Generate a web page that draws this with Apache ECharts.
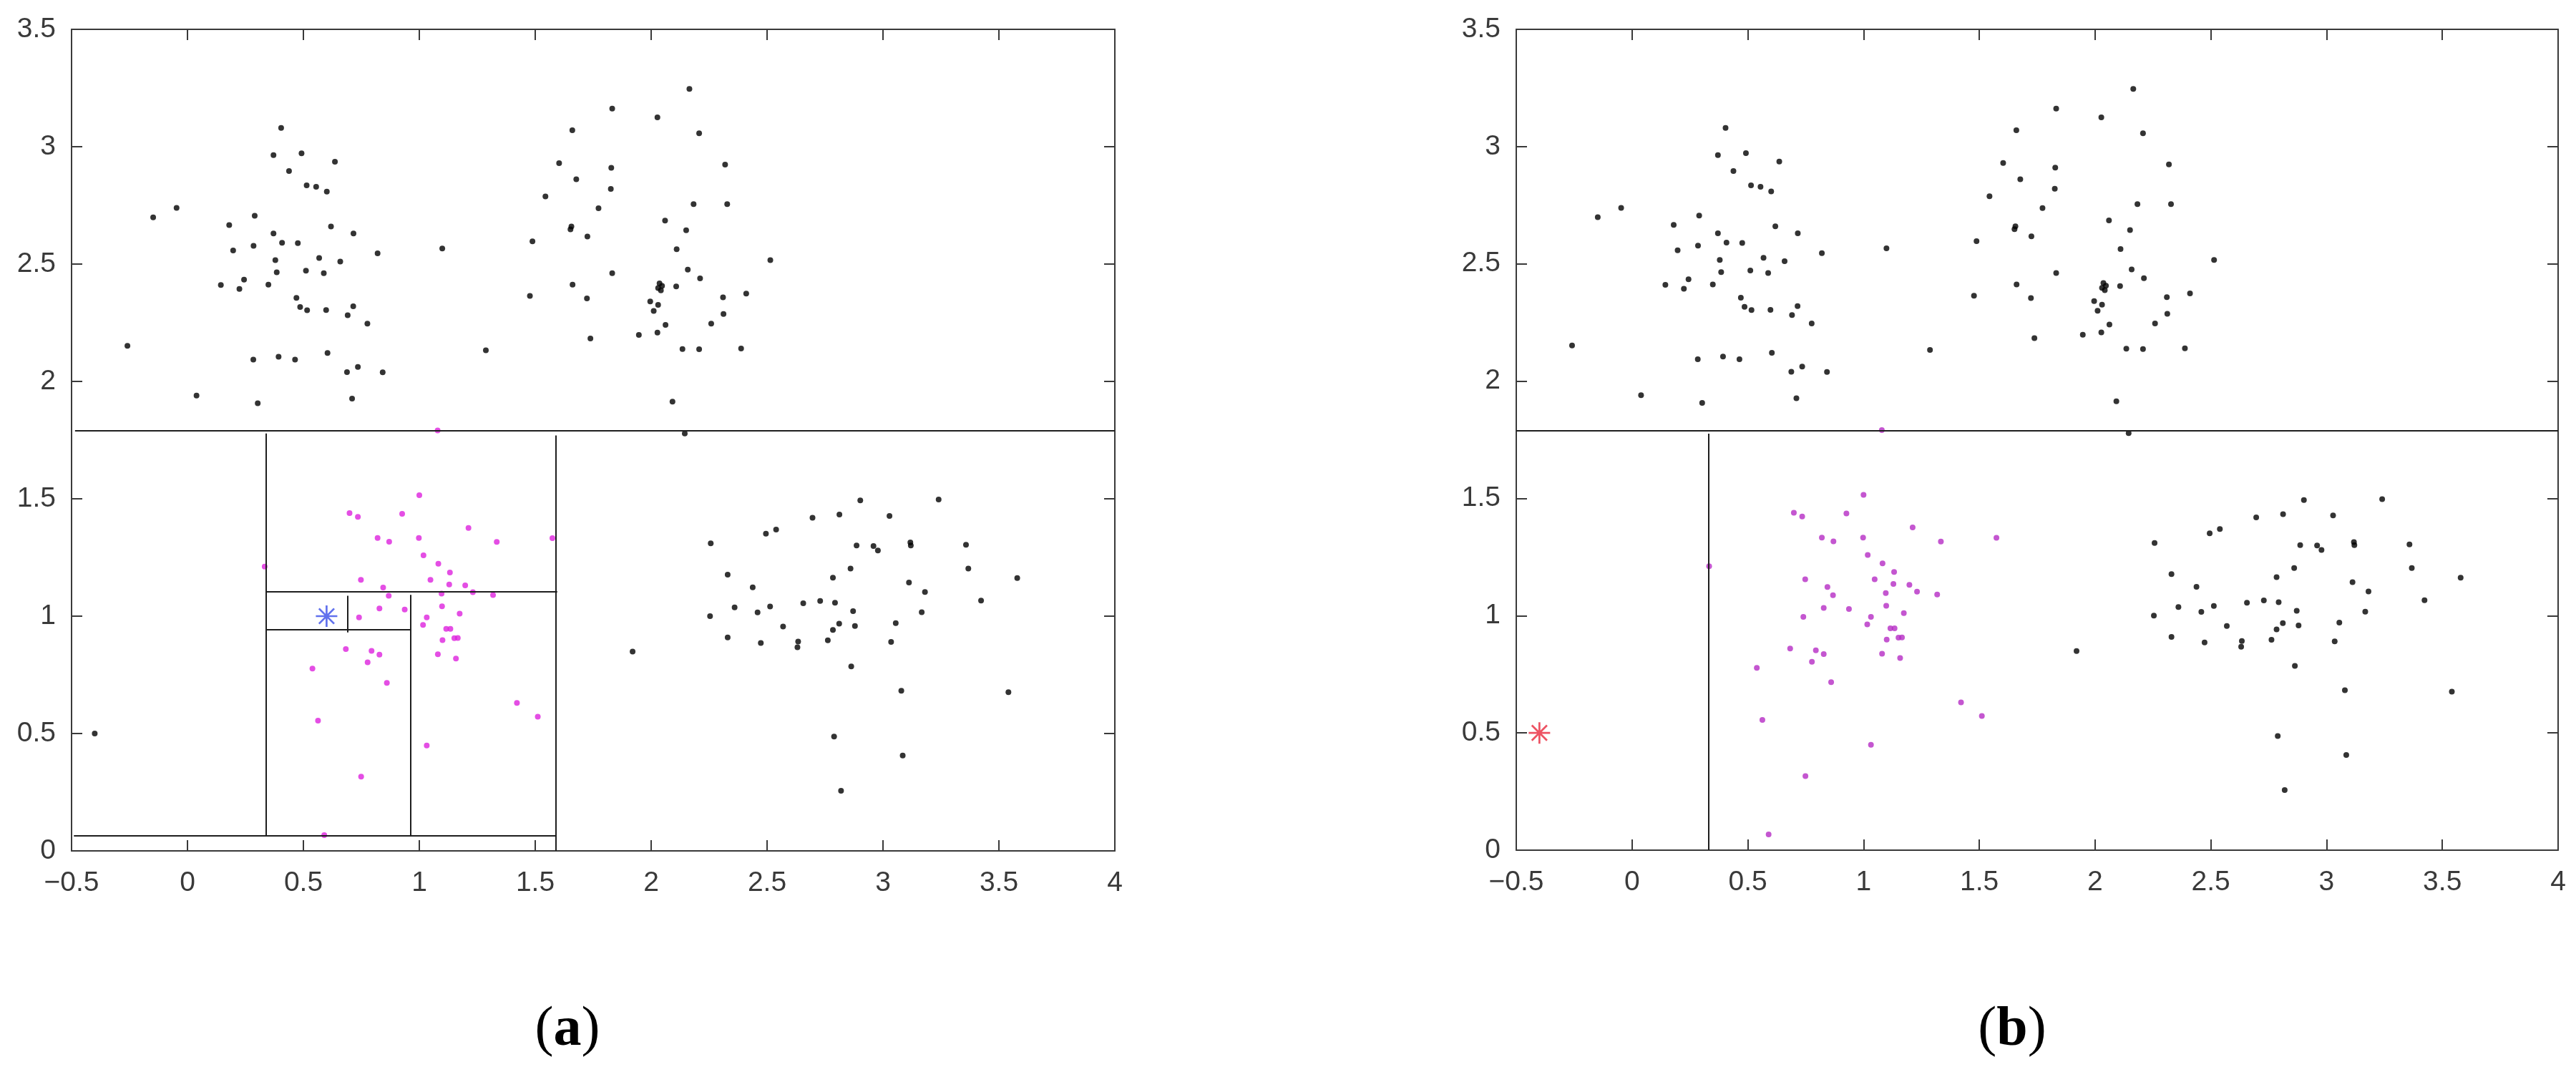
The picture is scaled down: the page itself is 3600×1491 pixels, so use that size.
<!DOCTYPE html>
<html>
<head>
<meta charset="utf-8">
<script src="https://cdn.jsdelivr.net/npm/echarts@6/dist/echarts.min.js"></script>
<style>
  html, body { margin: 0; padding: 0; background: #fff; }
  #chart { width: 3600px; height: 1491px; }
</style>
</head>
<body>
<div id="chart"></div>
<script>
// axis ticks
const xTicks = [-0.5, 0, 0.5, 1, 1.5, 2, 2.5, 3, 3.5, 4];
const yTicks = [0, 0.5, 1, 1.5, 2, 2.5, 3, 3.5];

// black points, upper-left cluster
const clusterTL = [
  [0.404, 3.08], [0.371, 2.964], [0.492, 2.972], [0.636, 2.936], [0.438, 2.896], [0.514, 2.835],
  [0.555, 2.829], [0.601, 2.809], [-0.148, 2.699], [-0.047, 2.739], [0.29, 2.706], [0.18, 2.666],
  [0.619, 2.66], [0.371, 2.63], [0.716, 2.63], [0.197, 2.558], [0.285, 2.578], [0.408, 2.591],
  [0.476, 2.589], [0.82, 2.546], [1.099, 2.566], [0.379, 2.517], [0.568, 2.526], [0.659, 2.511],
  [0.511, 2.472], [0.385, 2.465], [0.588, 2.461], [0.244, 2.434], [0.144, 2.411], [0.224, 2.394],
  [0.349, 2.412], [0.47, 2.356], [0.486, 2.317], [0.516, 2.303], [0.598, 2.304], [0.715, 2.32],
  [0.691, 2.282], [0.776, 2.246], [-0.259, 2.152], [1.287, 2.133], [0.604, 2.121], [0.284, 2.093],
  [0.393, 2.105], [0.464, 2.093], [0.735, 2.062], [0.688, 2.04], [0.842, 2.039], [0.039, 1.94],
  [0.303, 1.907], [0.71, 1.927]
];
// black points, upper-middle cluster
const clusterTM = [
  [2.165, 3.246], [1.832, 3.162], [2.027, 3.125], [1.66, 3.07], [2.207, 3.057], [1.603, 2.93],
  [2.319, 2.924], [1.828, 2.91], [1.677, 2.861], [1.826, 2.82], [1.544, 2.788], [1.773, 2.738],
  [2.183, 2.755], [2.328, 2.755], [2.06, 2.685], [1.656, 2.66], [1.652, 2.648], [1.725, 2.617],
  [2.151, 2.644], [1.488, 2.597], [2.11, 2.563], [2.514, 2.517], [1.832, 2.461], [2.158, 2.476],
  [2.211, 2.439], [1.661, 2.412], [1.477, 2.364], [1.723, 2.354], [2.036, 2.418], [2.047, 2.407],
  [2.03, 2.398], [2.042, 2.388], [2.108, 2.405], [2.41, 2.374], [2.31, 2.358], [1.996, 2.341],
  [2.03, 2.326], [2.011, 2.3], [2.312, 2.287], [2.062, 2.241], [2.259, 2.246], [1.738, 2.183],
  [1.947, 2.198], [2.027, 2.208], [2.135, 2.138], [2.207, 2.137], [2.388, 2.14], [2.092, 1.914],
  [2.145, 1.778]
];
// black points, lower-right cluster
const clusterBR = [
  [2.902, 1.493], [3.24, 1.497], [2.696, 1.419], [2.812, 1.433], [3.028, 1.427], [2.495, 1.351],
  [2.539, 1.369], [2.257, 1.31], [2.886, 1.301], [2.959, 1.299], [2.978, 1.28], [3.118, 1.314],
  [3.12, 1.301], [3.358, 1.304], [3.368, 1.203], [2.86, 1.203], [2.33, 1.177], [2.784, 1.164],
  [3.579, 1.162], [3.112, 1.143], [2.438, 1.123], [3.181, 1.103], [3.423, 1.066], [2.656, 1.055],
  [2.729, 1.065], [2.793, 1.057], [2.36, 1.037], [2.513, 1.041], [2.459, 1.016], [2.871, 1.021],
  [3.167, 1.017], [2.254, 1.0], [2.569, 0.956], [2.811, 0.968], [2.879, 0.958], [3.055, 0.97],
  [2.784, 0.941], [2.33, 0.909], [2.473, 0.886], [2.634, 0.892], [2.631, 0.867], [2.762, 0.897],
  [3.035, 0.89], [1.92, 0.849], [2.863, 0.786], [3.079, 0.682], [3.541, 0.676], [2.789, 0.487],
  [3.085, 0.406], [2.819, 0.256]
];
// magenta points (the class near the query)
const magentaPts = [
  [1.079, 1.791], [1.0, 1.515], [0.699, 1.439], [0.735, 1.423], [0.926, 1.436], [1.212, 1.376],
  [0.82, 1.333], [0.87, 1.317], [0.998, 1.333], [1.334, 1.316], [1.574, 1.332], [1.018, 1.259],
  [0.333, 1.211], [1.082, 1.223], [1.132, 1.186], [0.748, 1.155], [1.048, 1.155], [1.129, 1.135],
  [1.198, 1.131], [0.844, 1.122], [0.868, 1.087], [1.096, 1.096], [1.231, 1.102], [1.318, 1.09],
  [1.098, 1.042], [0.828, 1.033], [0.937, 1.028], [1.174, 1.011], [0.74, 0.995], [1.032, 0.995],
  [1.016, 0.963], [1.116, 0.946], [1.134, 0.946], [1.1, 0.898], [1.151, 0.906], [1.166, 0.907],
  [0.683, 0.86], [0.794, 0.852], [0.828, 0.836], [1.08, 0.838], [1.158, 0.819], [0.777, 0.803],
  [0.539, 0.777], [0.86, 0.716], [1.421, 0.63], [1.511, 0.572], [0.563, 0.555], [1.032, 0.449],
  [0.749, 0.316], [0.59, 0.067]
];
const extraPtA = [[-0.4, 0.5]];
const queryA = [[0.6, 1.0]];
const queryB = [[-0.4, 0.5]];

// kd-tree split segments [x1, y1, x2, y2]
const splitsA = [
  [-0.485, 1.79, 4.0, 1.79],
  [0.34, 0.066, 0.34, 1.778],
  [1.588, 0, 1.588, 1.77],
  [-0.49, 0.066, 1.59, 0.066],
  [0.342, 1.104, 1.595, 1.104],
  [0.961, 0.063, 0.961, 1.091],
  [0.342, 0.942, 0.961, 0.942],
  [0.69, 0.931, 0.69, 1.087]
];
const splitsB = [
  [-0.5, 1.789, 4.0, 1.789],
  [0.332, 0, 0.332, 1.776]
];

const blackPts = clusterTL.concat(clusterTM, clusterBR);

const STAR = 'path://M-0.9,-10 L0.9,-10 L0.9,10 L-0.9,10 Z M-10,-0.9 L10,-0.9 L10,0.9 L-10,0.9 Z ' +
  'M-6.43,-7.71 L7.71,6.43 L6.43,7.71 L-7.71,-6.43 Z M-7.71,6.43 L6.43,-7.71 L7.71,-6.43 L-6.43,7.71 Z';

const labelFont = { fontFamily: 'Liberation Sans, Arial, sans-serif', fontSize: 39, color: '#3a3a3a' };
const axisCol = '#3a3a3a';
const fmt = v => (v < 0 ? '\u2212' + Math.abs(v) : String(v));

function xAx(grid, pos) {
  return {
    type: 'value', gridIndex: grid, position: pos,
    min: xTicks[0], max: xTicks[xTicks.length - 1], interval: 0.5,
    axisLine: { show: true, onZero: false, lineStyle: { color: axisCol, width: 2 } },
    axisTick: { show: true, inside: true, length: 15, lineStyle: { color: axisCol, width: 2 } },
    axisLabel: Object.assign({ show: pos === 'bottom', margin: 26, formatter: fmt, showMinLabel: true, showMaxLabel: true }, labelFont),
    splitLine: { show: false }
  };
}
function yAx(grid, pos) {
  return {
    type: 'value', gridIndex: grid, position: pos,
    min: yTicks[0], max: yTicks[yTicks.length - 1], interval: 0.5,
    axisLine: { show: true, onZero: false, lineStyle: { color: axisCol, width: 2 } },
    axisTick: { show: true, inside: true, length: 15, lineStyle: { color: axisCol, width: 2 } },
    axisLabel: Object.assign({ show: pos === 'left', margin: 22, formatter: fmt, showMinLabel: true, showMaxLabel: true }, labelFont),
    splitLine: { show: false }
  };
}

function dots(data, color, xi, yi, size) {
  return {
    type: 'scatter', xAxisIndex: xi, yAxisIndex: yi, data: data,
    symbol: 'circle', symbolSize: size, itemStyle: { color: color }, silent: true, z: 2
  };
}
function star(data, color, xi, yi) {
  return {
    type: 'scatter', xAxisIndex: xi, yAxisIndex: yi, data: data,
    symbol: STAR, symbolSize: 30, symbolKeepAspect: true,
    itemStyle: { color: color }, silent: true, z: 5
  };
}
function segs(list, xi, yi) {
  return {
    type: 'lines', coordinateSystem: 'cartesian2d', xAxisIndex: xi, yAxisIndex: yi,
    data: list.map(s => ({ coords: [[s[0], s[1]], [s[2], s[3]]] })),
    lineStyle: { color: '#1e1e1e', width: 2, opacity: 1 }, silent: true, z: 4
  };
}

const chart = echarts.init(document.getElementById('chart'), null, { renderer: 'canvas' });
chart.setOption({
  backgroundColor: '#ffffff',
  animation: false,
  grid: [
    { left: 100, top: 41, width: 1458, height: 1148 },
    { left: 2119, top: 41, width: 1456, height: 1147 }
  ],
  xAxis: [xAx(0, 'bottom'), xAx(0, 'top'), xAx(1, 'bottom'), xAx(1, 'top')],
  yAxis: [yAx(0, 'left'), yAx(0, 'right'), yAx(1, 'left'), yAx(1, 'right')],
  series: [
    // panel (a)
    dots(blackPts, '#000000', 0, 0, 8),
    dots(extraPtA, '#000000', 0, 0, 8),
    dots(magentaPts, '#dd22dd', 0, 0, 8),
    segs(splitsA, 0, 0),
    star(queryA, '#3a4ee8', 0, 0),
    // panel (b)
    dots(blackPts, '#000000', 2, 2, 8),
    dots(magentaPts, '#b52cc4', 2, 2, 8),
    segs(splitsB, 2, 2),
    star(queryB, '#e8283c', 2, 2)
  ],
  graphic: [
    {
      type: 'text', x: 793, y: 1440,
      style: {
        text: '{p|(}{b|a}{p|)}', textAlign: 'center', textVerticalAlign: 'middle',
        rich: {
          p: { fontFamily: 'Liberation Serif, Times New Roman, serif', fontSize: 78, fill: '#000' },
          b: { fontFamily: 'Liberation Serif, Times New Roman, serif', fontSize: 78, fontWeight: 'bold', fill: '#000' }
        }
      }
    },
    {
      type: 'text', x: 2812, y: 1440,
      style: {
        text: '{p|(}{b|b}{p|)}', textAlign: 'center', textVerticalAlign: 'middle',
        rich: {
          p: { fontFamily: 'Liberation Serif, Times New Roman, serif', fontSize: 78, fill: '#000' },
          b: { fontFamily: 'Liberation Serif, Times New Roman, serif', fontSize: 78, fontWeight: 'bold', fill: '#000' }
        }
      }
    }
  ]
});
</script>
</body>
</html>
